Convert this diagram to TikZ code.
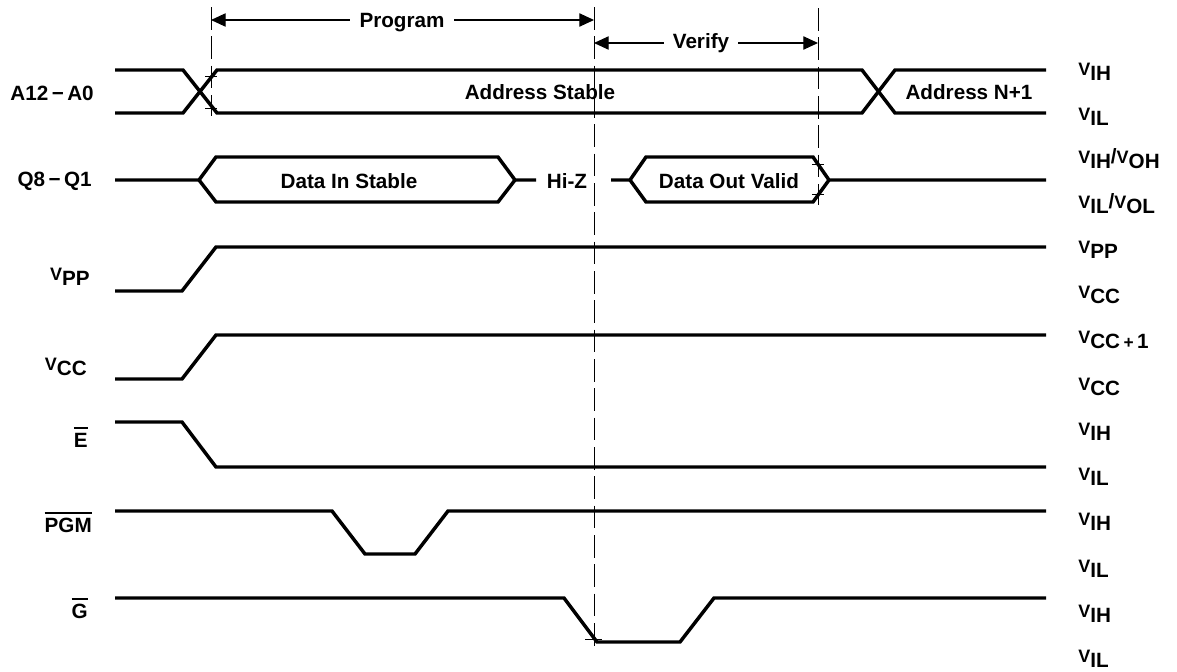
\documentclass[tikz,border=0pt]{standalone}
\usepackage{fontspec}
\setmainfont{Liberation Sans}
\usetikzlibrary{arrows.meta}
\newcommand\Vs[1]{{\fontsize{13.5}{16}\selectfont V}\raisebox{-4pt}{#1}}
\newcommand\barred[1]{\vbox{\hrule height 1.6pt\kern 2.6pt\hbox{#1}}}
\begin{document}
\begin{tikzpicture}[x=0.75pt,y=-0.75pt,
  sig/.style={line width=2.6pt, line join=miter},
  guide/.style={line width=0.75pt, dash pattern=on 17pt off 5pt},
  tickmark/.style={line width=0.75pt},
  dim/.style={line width=0.8pt, {Triangle[length=11pt,width=10pt]}-{Triangle[length=11pt,width=10pt]}},
  txt/.style={font=\fontsize{15.5}{18}\selectfont\bfseries, inner sep=0pt, anchor=base},
  dimtxt/.style={txt, fill=white, inner xsep=7pt, inner ysep=1pt},
  llbl/.style={font=\fontsize{15.5}{18}\selectfont\bfseries, inner sep=0pt, anchor=base east},
  rlbl/.style={font=\fontsize{15.5}{18}\selectfont\bfseries, inner sep=0pt, anchor=base west}]
\useasboundingbox (0,0) rectangle (1177,671);

% guide lines
\coordinate (d1t) at (211,7);  \coordinate (d1b) at (211,116);
\coordinate (d2t) at (594,7);  \coordinate (d2b) at (594,647);
\coordinate (d3t) at (818,8);  \coordinate (d3b) at (818,205);
\draw[guide] (d1t) -- (d1b);
\draw[guide] (d2t) -- (d2b);
\draw[guide] (d3t) -- (d3b);

% dimension arrows
\coordinate (p1) at (211,20); \coordinate (p2) at (594,20);
\coordinate (v1) at (594,43); \coordinate (v2) at (818,43);
\draw[dim] (p1) -- (p2);
\node[dimtxt] (prog) at (402,27) {Program};
\draw[dim] (v1) -- (v2);
\node[dimtxt] (ver) at (701,48) {Verify};

% A12-A0
\draw[sig] (115,70) -- (183,70) -- (217,113) -- (862,113) -- (895,70) -- (1046,70);
\draw[sig] (115,113) -- (183,113) -- (217,70) -- (862,70) -- (895,113) -- (1046,113);
\draw[tickmark] (205,76) -- (217,76);
\draw[tickmark] (205,108) -- (217,108);
\node[txt] (as) at (540,99) {Address Stable};
\node[txt] (an) at (969,99) {Address N+1};

% Q8-Q1
\draw[sig] (115,180) -- (199,180) -- (216,157) -- (498,157) -- (515,180) -- (536,180);
\draw[sig] (199,180) -- (216,202) -- (498,202) -- (515,180);
\draw[sig] (611,180) -- (630,180) -- (646,157) -- (813,157) -- (829,180) -- (1046,180);
\draw[sig] (630,180) -- (646,202) -- (813,202) -- (829,180);
\draw[tickmark] (812,164) -- (824,164);
\draw[tickmark] (812,194) -- (824,194);
\node[txt] (din) at (349,188) {Data In Stable};
\node[txt] (hiz) at (567,188) {Hi-Z};
\node[txt] (dout) at (729,188) {Data Out Valid};

% VPP, VCC, E, PGM, G
\draw[sig] (115,291) -- (182,291) -- (216,247) -- (1046,247);
\draw[sig] (115,379) -- (182,379) -- (216,335) -- (1046,335);
\draw[sig] (115,422) -- (182,422) -- (216,467) -- (1046,467);
\draw[sig] (115,511) -- (332,511) -- (365,554) -- (415,554) -- (448,511) -- (1046,511);
\draw[sig] (115,598) -- (564,598) -- (597,642) -- (680,642) -- (714,598) -- (1046,598);
\draw[tickmark] (585,639) -- (602,639);

% left labels
\node[llbl] (la) at (94,100) {A12\,−\,A0};
\node[llbl] (lq) at (92,186) {Q8\,−\,Q1};
\node[llbl] (lvpp) at (90,280) {\Vs{PP}};
\node[llbl] (lvcc) at (87,370) {\Vs{CC}};
\node[llbl] (le) at (88,447) {\barred{E}};
\node[llbl] (lpgm) at (92,532) {\barred{PGM}};
\node[llbl] (lg) at (88,618) {\barred{G}};

% right labels
\node[rlbl] (r1) at (1078,75) {\Vs{IH}};
\node[rlbl] (r2) at (1078,120) {\Vs{IL}};
\node[rlbl] (r3) at (1078,163) {\Vs{IH}/\Vs{OH}};
\node[rlbl] (r4) at (1078,208) {\Vs{IL}/\Vs{OL}};
\node[rlbl] (r5) at (1078,253) {\Vs{PP}};
\node[rlbl] (r6) at (1078,298) {\Vs{CC}};
\node[rlbl] (r7) at (1078,343) {\Vs{CC\,{\fontsize{13}{16}\selectfont+}\,1}};
\node[rlbl] (r8) at (1078,390) {\Vs{CC}};
\node[rlbl] (r9) at (1078,435) {\Vs{IH}};
\node[rlbl] (r10) at (1078,480) {\Vs{IL}};
\node[rlbl] (r11) at (1078,525) {\Vs{IH}};
\node[rlbl] (r12) at (1078,572) {\Vs{IL}};
\node[rlbl] (r13) at (1078,617) {\Vs{IH}};
\node[rlbl] (r14) at (1078,662) {\Vs{IL}};
\end{tikzpicture}
\end{document}
